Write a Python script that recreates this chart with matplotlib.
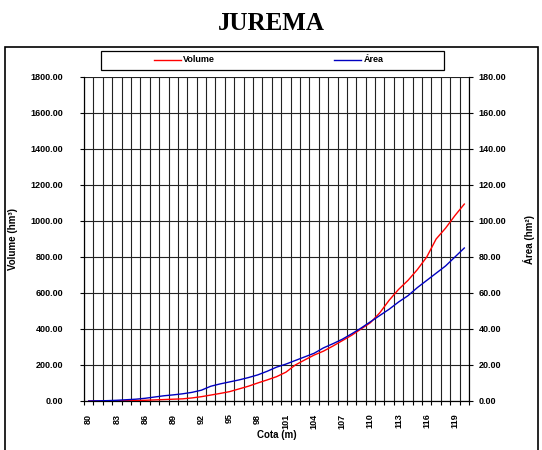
import matplotlib
matplotlib.use("Agg")
import matplotlib.pyplot as plt
from matplotlib.patches import Rectangle
from matplotlib.lines import Line2D
import numpy as np

cotas = list(range(80, 121))
volume = [0, 0, 0.5, 1, 2, 3, 4, 6, 8, 10,
          12, 17, 24, 33, 42, 52, 67, 82, 100, 117,
          135, 160, 200, 228, 255, 277, 305, 335, 365, 400,
          435, 490, 560, 620, 670, 730, 800, 900, 960, 1030,
          1094]
area = [0, 0.1, 0.2, 0.4, 0.7, 1.0, 1.5, 2.2, 2.9, 3.4,
        4.0, 4.8, 6.0, 8.2, 9.5, 10.6, 11.7, 13.0, 14.5, 16.5,
        18.8, 20.5, 22.5, 24.5, 26.5, 29.5, 31.8, 34.3, 37.3, 40.5,
        44.0, 47.5, 51.0, 55.0, 58.5, 63.0, 67.0, 71.0, 75.0, 80.0,
        85.0]
left_ticks = list(range(0, 1801, 200))
right_ticks = list(range(0, 181, 20))
label_cotas = list(range(80, 120, 3))
series_names = ["Volume", "Área"]
series_colors = ["#ff0000", "#0000c0"]

W, H = 542, 450
fig = plt.figure(figsize=(W / 100, H / 100), dpi=100)
sans = ["Liberation Sans", "DejaVu Sans"]
serif = ["Liberation Serif", "DejaVu Serif"]
TF = 6.5

# outer frame
fig.patches.append(Rectangle((5 / W, -0.05), 533 / W, 1 - 47 / H + 0.05,
                             transform=fig.transFigure, fill=False,
                             edgecolor="black", linewidth=1.2))
fig.text(0.5, 1 - 24 / H, "JUREMA", ha="center", va="center",
         fontsize=18, fontweight="bold", family=serif)

ax = fig.add_axes([84 / W, 1 - 401 / H, (469 - 84) / W, (401 - 77) / H])
x = np.arange(len(cotas))
ax.plot(x, volume, color=series_colors[0], linewidth=1.0, zorder=3)
ax.set_xlim(-0.5, len(cotas) - 0.5)
ax.set_ylim(0, 1800)
ax.set_yticks(left_ticks)
ax.set_yticklabels([f"{v:.2f}" for v in left_ticks], fontsize=TF,
                   fontweight="bold", family=sans)
ax.tick_params(axis="y", direction="out", length=3, width=0.8, pad=12)
ax.set_xticks(np.arange(-0.5, len(cotas), 1.0))
ax.set_xticklabels([])
ax.set_xticks([cotas.index(c) for c in label_cotas], minor=True)
ax.set_xticklabels([str(c) for c in label_cotas], minor=True, rotation=90,
                   fontsize=TF, fontweight="bold", family=sans)
ax.tick_params(axis="x", which="major", direction="out", length=3, width=0.8)
ax.tick_params(axis="x", which="minor", length=0, pad=9)
ax.grid(True, axis="x", which="major", color="#222222", linewidth=0.8)
ax.grid(True, axis="y", color="#222222", linewidth=0.8)
for s in ax.spines.values():
    s.set_linewidth(0.8)
ax.spines["top"].set_visible(False)
ax.set_xlabel("Cota (m)", fontsize=7, fontweight="bold", family=sans, labelpad=1)
ax.set_ylabel("Volume (hm³)", fontsize=7, fontweight="bold", family=sans)
ax.yaxis.set_label_coords(-(84 - 18) / (469 - 84), 0.5)

ax2 = ax.twinx()
ax2.plot(x, area, color=series_colors[1], linewidth=1.0, zorder=3)
ax2.set_ylim(0, 180)
ax2.set_yticks(right_ticks)
ax2.set_yticklabels([f"{v:.2f}" for v in right_ticks], fontsize=TF,
                    fontweight="bold", family=sans)
ax2.tick_params(axis="y", direction="out", length=3, width=0.8, pad=4)
ax2.spines["top"].set_visible(False)
for s in ax2.spines.values():
    s.set_linewidth(0.8)
ax2.set_ylabel("Área (hm²)", fontsize=7, fontweight="bold", family=sans)
ax2.yaxis.set_label_coords(1 + (523 - 469) / (469 - 84), 0.5)

# legend (manual, Excel-like layout)
fig.patches.append(Rectangle((101 / W, 1 - 70 / H), 343 / W, 19 / H,
                             transform=fig.transFigure, fill=False,
                             edgecolor="black", linewidth=0.9))
ly = 1 - 60 / H
for (x0, x1, tx), name, col in zip([(154, 181, 183), (334, 361, 364)],
                                   series_names, series_colors):
    fig.lines.append(Line2D([x0 / W, x1 / W], [ly, ly], color=col,
                            linewidth=1.0, transform=fig.transFigure))
    fig.text(tx / W, ly, name, ha="left", va="center", fontsize=TF,
             fontweight="bold", family=sans)

fig.savefig("out.png", dpi=100)
